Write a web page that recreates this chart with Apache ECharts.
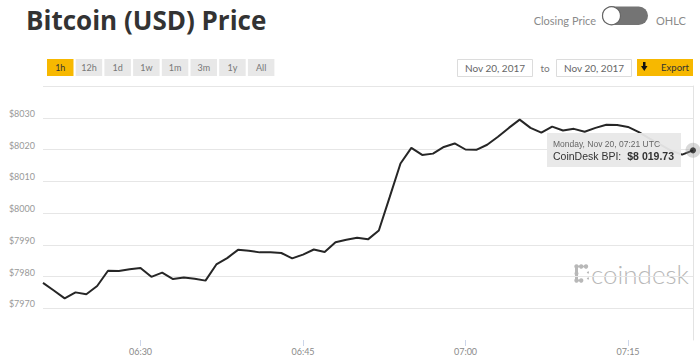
<!DOCTYPE html>
<html>
<head>
<meta charset="utf-8">
<script src="https://cdn.jsdelivr.net/npm/echarts@6/dist/echarts.min.js"></script>
<style>
  html, body { margin: 0; padding: 0; background: #fff; }
  #chart { width: 700px; height: 364px; }
</style>
</head>
<body>
<div id="chart"></div>
<script>
// One hour of CoinDesk BPI closing prices, one point per minute (UTC)
const times = [
  "06:21","06:22","06:23","06:24","06:25","06:26","06:27","06:28","06:29","06:30",
  "06:31","06:32","06:33","06:34","06:35","06:36","06:37","06:38","06:39","06:40",
  "06:41","06:42","06:43","06:44","06:45","06:46","06:47","06:48","06:49","06:50",
  "06:51","06:52","06:53","06:54","06:55","06:56","06:57","06:58","06:59","07:00",
  "07:01","07:02","07:03","07:04","07:05","07:06","07:07","07:08","07:09","07:10",
  "07:11","07:12","07:13","07:14","07:15","07:16","07:17","07:18","07:19","07:20",
  "07:21"
];
const prices = [
  7978.0, 7975.6, 7973.1, 7975.0, 7974.4, 7977.0, 7981.8, 7981.7, 7982.3, 7982.7,
  7979.9, 7981.2, 7979.2, 7979.7, 7979.3, 7978.7, 7983.8, 7985.8, 7988.4, 7988.1,
  7987.6, 7987.6, 7987.4, 7985.7, 7986.9, 7988.5, 7987.7, 7990.8, 7991.6, 7992.2,
  7991.7, 7994.5, 8005.0, 8015.6, 8020.5, 8018.3, 8018.7, 8020.8, 8021.9, 8020.0,
  8019.9, 8021.5, 8024.0, 8026.8, 8029.4, 8026.8, 8025.3, 8027.2, 8026.0, 8026.5,
  8025.6, 8026.8, 8027.8, 8027.7, 8027.1, 8025.5, 8023.4, 8021.5, 8019.6, 8018.4,
  8019.73
];
const timeTickLabels = ["06:30", "06:45", "07:00", "07:15"];
const rangeButtons = ["1h", "12h", "1d", "1w", "1m", "3m", "1y", "All"];
const activeRange = "1h";
const dateFrom = "Nov 20, 2017";
const dateTo = "Nov 20, 2017";
const dayLabel = "Monday, Nov 20";

const Y_MIN = 7960, Y_MAX = 8040, Y_STEP = 10;
const ORANGE = '#f7b800';
const FONT = 'Lato, "Open Sans", sans-serif';
const TIP_FONT = "'Liberation Sans', Arial, sans-serif";

const lastIdx = prices.length - 1;
const lastTime = times[lastIdx];
const lastPrice = prices[lastIdx];

function fmtMoney(v) {
  const [i, d] = v.toFixed(2).split('.');
  return '$' + i.replace(/\B(?=(\d{3})+(?!\d))/g, ' ') + '.' + d;
}
const isTimeTick = (idx, val) => timeTickLabels.includes(val);

// ---- header widgets ----
const header = [];
header.push({
  type: 'text', x: 26, y: 20,
  style: { text: 'Bitcoin (USD) Price', font: 'bold 26px "Open Sans", sans-serif', fill: '#333',
           align: 'left', verticalAlign: 'middle' }
});
rangeButtons.forEach((label, i) => {
  const x = 47 + i * 28.7;
  const active = label === activeRange;
  header.push({
    type: 'rect', shape: { x: x, y: 59, width: 26.5, height: 17 },
    style: { fill: active ? ORANGE : '#e8e8e8' }
  });
  header.push({
    type: 'text', x: x + 13.25, y: 67.5,
    style: { text: label, font: '9px ' + FONT, fill: active ? '#333' : '#777',
             align: 'center', verticalAlign: 'middle' }
  });
});
// closing price / OHLC switch
header.push({
  type: 'text', x: 596, y: 20,
  style: { text: 'Closing Price', font: '11px ' + FONT, fill: '#8a8a8a',
           align: 'right', verticalAlign: 'middle' }
});
header.push({
  type: 'rect', shape: { x: 602, y: 6.5, width: 46, height: 18.5, r: 9.25 },
  style: { fill: '#747474' }
});
header.push({
  type: 'circle', shape: { cx: 611.5, cy: 15.75, r: 9 },
  style: { fill: '#fff', stroke: '#666', lineWidth: 1.2 }
});
header.push({
  type: 'text', x: 656, y: 20,
  style: { text: 'OHLC', font: '11px ' + FONT, fill: '#8a8a8a',
           align: 'left', verticalAlign: 'middle' }
});
// date range boxes
[[457, dateFrom], [556, dateTo]].forEach(([x, txt]) => {
  header.push({
    type: 'rect', shape: { x: x + 0.5, y: 59.5, width: 75, height: 17 },
    style: { fill: '#fff', stroke: '#dcdcdc', lineWidth: 1 }
  });
  header.push({
    type: 'text', x: x + 38, y: 68,
    style: { text: txt, font: '10px ' + FONT, fill: '#666',
             align: 'center', verticalAlign: 'middle' }
  });
});
header.push({
  type: 'text', x: 545, y: 68,
  style: { text: 'to', font: '10px ' + FONT, fill: '#777',
           align: 'center', verticalAlign: 'middle' }
});
// export button
header.push({
  type: 'rect', shape: { x: 637, y: 59, width: 56, height: 17 },
  style: { fill: ORANGE }
});
header.push({
  type: 'polygon',
  shape: { points: [[643, 62], [645.5, 62], [645.5, 66], [647.5, 66], [644.25, 71], [641, 66], [643, 66]] },
  style: { fill: '#111' }
});
header.push({
  type: 'text', x: 675, y: 67.5,
  style: { text: 'Export', font: '9.5px ' + FONT, fill: '#333',
           align: 'center', verticalAlign: 'middle' }
});

// ---- coindesk watermark ----
const wm = '#b8b8b8';
const logo = [
  { type: 'circle', shape: { cx: 576.5, cy: 266.5, r: 2.2 }, style: { fill: wm } },
  { type: 'circle', shape: { cx: 581.2, cy: 266.5, r: 2.2 }, style: { fill: wm } },
  { type: 'circle', shape: { cx: 586, cy: 266.5, r: 2.2 }, style: { fill: wm } },
  { type: 'rect', shape: { x: 575, y: 266.5, width: 3, height: 14 }, style: { fill: wm } },
  { type: 'rect', shape: { x: 576, y: 265.7, width: 10, height: 1.6 }, style: { fill: wm } },
  { type: 'circle', shape: { cx: 576.5, cy: 273.5, r: 2 }, style: { fill: wm } },
  { type: 'circle', shape: { cx: 576.5, cy: 280.5, r: 2.2 }, style: { fill: wm } },
  { type: 'circle', shape: { cx: 581.2, cy: 280.5, r: 2.2 }, style: { fill: wm } },
  { type: 'rect', shape: { x: 576, y: 279.7, width: 5, height: 1.6 }, style: { fill: wm } },
  { type: 'circle', shape: { cx: 588, cy: 272.5, r: 1 }, style: { fill: wm } },
  { type: 'circle', shape: { cx: 588, cy: 278.5, r: 1 }, style: { fill: wm } },
  { type: 'text', x: 591, y: 274,
    style: { text: 'coindesk', font: '300 26px ' + FONT, fill: wm,
             align: 'left', verticalAlign: 'middle' } }
];

const chart = echarts.init(document.getElementById('chart'), null, { renderer: 'svg' });

chart.setOption({
  animation: false,
  textStyle: { fontFamily: FONT },
  grid: { left: 43, right: 7, top: 86, bottom: 24 },
  xAxis: {
    type: 'category',
    data: times,
    boundaryGap: false,
    axisLine: { show: false },
    axisTick: { show: true, interval: isTimeTick, length: 6, lineStyle: { color: '#ccd6eb' } },
    axisLabel: { interval: isTimeTick, margin: 7, fontSize: 9, color: '#8a8a8a' },
    splitLine: { show: false }
  },
  yAxis: [{
    type: 'value',
    min: Y_MIN, max: Y_MAX, interval: Y_STEP,
    axisLine: { show: false },
    axisTick: { show: false },
    axisLabel: {
      margin: 8, fontSize: 9, color: '#999', verticalAlign: 'bottom',
      showMinLabel: false, showMaxLabel: false,
      formatter: v => '$' + v
    },
    splitLine: { show: true, showMinLine: false, lineStyle: { color: '#e6e6e6', width: 1 } }
  }, {
    type: 'value', position: 'right',
    min: Y_MIN, max: Y_MAX, interval: Y_STEP,
    axisLine: { show: true, lineStyle: { color: '#e3e3e3', width: 1 } },
    axisTick: { show: false }, axisLabel: { show: false }, splitLine: { show: false }
  }],
  tooltip: {
    trigger: 'axis',
    triggerOn: 'none',
    alwaysShowContent: true,
    transitionDuration: 0,
    axisPointer: { type: 'none' },
    backgroundColor: 'rgba(232,232,232,0.95)',
    borderWidth: 0,
    borderRadius: 0,
    padding: [6, 7, 4, 6],
    extraCssText: 'box-shadow:none;width:121px;',
    position: () => [547, 133],
    formatter: params => {
      const p = params.find(q => q.seriesName === 'CoinDesk BPI') || params[0];
      return '<div style="font:8.5px/11px ' + TIP_FONT + ';color:#666;">' +
        dayLabel + ', ' + p.name + ' UTC</div>' +
        '<div style="display:flex;justify-content:space-between;font:10.5px/13px ' +
        TIP_FONT + ';color:#333;">' +
        '<span>CoinDesk BPI:</span><span style="font-weight:700">' +
        fmtMoney(p.value) + '</span></div>';
    }
  },
  series: [{
    name: 'CoinDesk BPI',
    type: 'line',
    data: prices,
    showSymbol: false,
    symbol: 'none',
    lineStyle: { color: '#262626', width: 2 },
    emphasis: { disabled: true },
    z: 3
  }, {
    name: 'halo',
    type: 'scatter',
    data: [[lastTime, lastPrice]],
    symbolSize: 15,
    itemStyle: { color: 'rgba(150,150,150,0.45)' },
    clip: false,
    silent: true,
    tooltip: { show: false },
    z: 4
  }, {
    name: 'dot',
    type: 'scatter',
    data: [[lastTime, lastPrice]],
    symbolSize: 6,
    itemStyle: { color: '#1e1e1e' },
    clip: false,
    silent: true,
    tooltip: { show: false },
    z: 5
  }],
  graphic: { elements: header.concat(logo) }
});

chart.dispatchAction({ type: 'showTip', seriesIndex: 0, dataIndex: lastIdx });
</script>
</body>
</html>
